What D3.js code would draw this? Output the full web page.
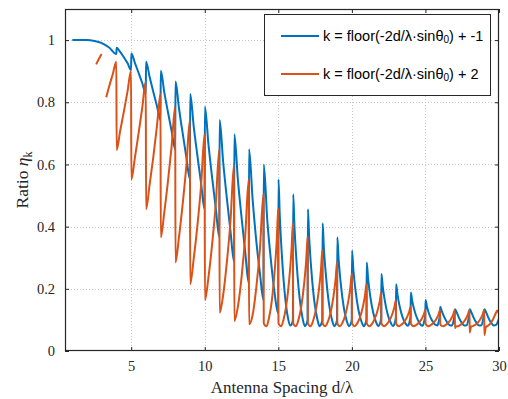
<!DOCTYPE html>
<html>
<head>
<meta charset="utf-8">
<title>Ratio vs antenna spacing</title>
<script src="https://cdn.jsdelivr.net/npm/d3@7"></script>
<style>
body { margin: 0; background: #fff; }
</style>
</head>
<body>
<svg id="chart" width="508" height="399"></svg>
<script>
// ticks
let xTicks = [5, 10, 15, 20, 25, 30];
let yTicks = [0, 0.2, 0.4, 0.6, 0.8, 1];

// legend labels
let seriesNames = ['k = floor(-2d/\u03bb\u00b7sin\u03b8', 'k = floor(-2d/\u03bb\u00b7sin\u03b8'];
let seriesTails = [') + -1', ') + 2'];

// [d/lambda, eta], one row per period
let blueCurve = [
    [1,1.0],[1.5,1.0],[2,1.0],[2.5,0.997],[3,0.99],[3.5,0.976],[3.99,0.955],
    [4.01,0.975],[4.25,0.962],[4.5,0.945],[4.75,0.926],[4.99,0.904],
    [5.01,0.957],[5.25,0.927],[5.5,0.895],[5.75,0.862],[5.99,0.827],
    [6.01,0.930],[6.25,0.882],[6.5,0.834],[6.75,0.788],[6.99,0.743],
    [7.01,0.901],[7.25,0.832],[7.5,0.768],[7.75,0.707],[7.99,0.649],
    [8.01,0.867],[8.25,0.780],[8.5,0.700],[8.75,0.623],[8.99,0.552],
    [9.01,0.827],[9.25,0.722],[9.5,0.628],[9.75,0.539],[9.99,0.456],
    [10.01,0.786],[10.25,0.665],[10.5,0.558],[10.75,0.459],[10.99,0.366],
    [11.01,0.743],[11.25,0.608],[11.5,0.492],[11.75,0.385],[11.99,0.287],
    [12.01,0.697],[12.25,0.552],[12.5,0.430],[12.75,0.318],[12.99,0.218],
    [13.01,0.649],[13.25,0.490],[13.5,0.355],[13.75,0.250],[13.99,0.164],
    [14.01,0.600],[14.25,0.420],[14.5,0.290],[14.75,0.185],[14.99,0.121],
    [15.01,0.552],[15.1,0.434],[15.25,0.302],[15.45,0.179],[15.65,0.108],[15.8,0.082],[15.9,0.085],[15.99,0.100],
    [16.01,0.504],[16.1,0.398],[16.25,0.279],[16.45,0.169],[16.65,0.105],[16.8,0.080],[16.9,0.085],[16.99,0.100],
    [17.01,0.456],[17.1,0.362],[17.25,0.257],[17.45,0.159],[17.65,0.103],[17.8,0.080],[17.9,0.085],[17.99,0.100],
    [18.01,0.411],[18.1,0.328],[18.25,0.236],[18.45,0.150],[18.65,0.100],[18.8,0.080],[18.9,0.085],[18.99,0.100],
    [19.01,0.366],[19.1,0.295],[19.25,0.214],[19.45,0.140],[19.65,0.097],[19.8,0.080],[19.9,0.085],[19.99,0.100],
    [20.01,0.323],[20.1,0.262],[20.25,0.194],[20.45,0.131],[20.65,0.095],[20.8,0.080],[20.9,0.086],[20.99,0.102],
    [21.01,0.285],[21.1,0.234],[21.25,0.176],[21.45,0.123],[21.65,0.092],[21.8,0.080],[21.9,0.087],[21.99,0.105],
    [22.01,0.248],[22.1,0.206],[22.25,0.159],[22.45,0.115],[22.65,0.090],[22.8,0.080],[22.9,0.088],[22.99,0.110],
    [23.01,0.215],[23.1,0.181],[23.25,0.143],[23.45,0.108],[23.65,0.088],[23.8,0.081],[23.9,0.090],[23.99,0.115],
    [24.01,0.188],[24.1,0.161],[24.25,0.131],[24.45,0.103],[24.65,0.086],[24.8,0.081],[24.9,0.092],[24.99,0.118],
    [25.01,0.164],[25.1,0.143],[25.25,0.119],[25.45,0.098],[25.65,0.085],[25.8,0.082],[25.9,0.094],[25.99,0.120],
    [26.01,0.142],[26.1,0.130],[26.25,0.112],[26.45,0.094],[26.65,0.083],[26.8,0.082],[26.9,0.095],[26.99,0.122],
    [27.01,0.134],[27.1,0.127],[27.25,0.110],[27.45,0.092],[27.65,0.082],[27.8,0.083],[27.9,0.097],[27.99,0.124],
    [28.01,0.134],[28.1,0.127],[28.25,0.110],[28.45,0.092],[28.65,0.082],[28.8,0.083],[28.9,0.097],[28.99,0.124],
    [29.01,0.134],[29.1,0.127],[29.25,0.110],[29.45,0.092],[29.65,0.082],[29.8,0.084],[29.9,0.092],[30,0.104]
];

let orangeCurve = [
    [2.62,0.922],[2.8,0.939],[2.98,0.955], null,
    [3.3,0.816],[3.5,0.851],[3.75,0.891],[3.99,0.930],
    [4.01,0.646],[4.25,0.708],[4.5,0.770],[4.75,0.835],[4.99,0.901],
    [5.01,0.552],[5.25,0.621],[5.5,0.700],[5.75,0.782],[5.99,0.867],
    [6.01,0.456],[6.25,0.534],[6.5,0.623],[6.75,0.723],[6.99,0.827],
    [7.01,0.366],[7.25,0.446],[7.5,0.547],[7.75,0.660],[7.99,0.786],
    [8.01,0.285],[8.25,0.367],[8.5,0.473],[8.75,0.596],[8.99,0.743],
    [9.01,0.215],[9.25,0.297],[9.5,0.403],[9.75,0.533],[9.99,0.697],
    [10.01,0.164],[10.25,0.237],[10.5,0.343],[10.75,0.474],[10.99,0.649],
    [11.01,0.123],[11.25,0.180],[11.5,0.285],[11.75,0.419],[11.99,0.600],
    [12.01,0.096],[12.25,0.142],[12.5,0.237],[12.75,0.370],[12.99,0.552],
    [13.01,0.086],[13.25,0.115],[13.5,0.203],[13.75,0.328],[13.99,0.504],
    [14.01,0.090],[14.1,0.082],[14.2,0.080],[14.35,0.103],[14.55,0.159],[14.75,0.257],[14.9,0.362],[14.99,0.456],
    [15.01,0.090],[15.1,0.082],[15.2,0.080],[15.35,0.100],[15.55,0.150],[15.75,0.236],[15.9,0.328],[15.99,0.411],
    [16.01,0.090],[16.1,0.082],[16.2,0.080],[16.35,0.097],[16.55,0.140],[16.75,0.214],[16.9,0.295],[16.99,0.366],
    [17.01,0.090],[17.1,0.082],[17.2,0.080],[17.35,0.095],[17.55,0.131],[17.75,0.194],[17.9,0.262],[17.99,0.323],
    [18.01,0.090],[18.1,0.082],[18.2,0.080],[18.35,0.092],[18.55,0.123],[18.75,0.176],[18.9,0.234],[18.99,0.285],
    [19.01,0.090],[19.1,0.082],[19.2,0.080],[19.35,0.090],[19.55,0.115],[19.75,0.159],[19.9,0.206],[19.99,0.248],
    [20.01,0.090],[20.1,0.082],[20.2,0.080],[20.35,0.088],[20.55,0.108],[20.75,0.143],[20.9,0.181],[20.99,0.215],
    [21.01,0.090],[21.1,0.082],[21.2,0.080],[21.35,0.086],[21.55,0.103],[21.75,0.131],[21.9,0.161],[21.99,0.188],
    [22.01,0.089],[22.1,0.082],[22.2,0.080],[22.35,0.085],[22.55,0.098],[22.75,0.119],[22.9,0.143],[22.99,0.164],
    [23.01,0.088],[23.1,0.082],[23.2,0.080],[23.35,0.084],[23.55,0.093],[23.75,0.109],[23.9,0.127],[23.99,0.142],
    [24.01,0.088],[24.1,0.082],[24.2,0.080],[24.35,0.083],[24.55,0.091],[24.75,0.104],[24.9,0.119],[24.99,0.132],
    [25.01,0.088],[25.1,0.082],[25.2,0.080],[25.35,0.083],[25.55,0.091],[25.75,0.104],[25.9,0.119],[25.99,0.132],
    [26.01,0.086],[26.1,0.081],[26.2,0.080],[26.35,0.083],[26.55,0.091],[26.75,0.104],[26.9,0.119],[26.99,0.132],
    [27.01,0.074],[27.1,0.080],[27.2,0.080],[27.35,0.083],[27.55,0.091],[27.75,0.104],[27.9,0.119],[27.99,0.132],
    [28.01,0.059],[28.1,0.078],[28.2,0.080],[28.35,0.083],[28.55,0.091],[28.75,0.104],[28.9,0.119],[28.99,0.132],
    [29.01,0.051],[29.1,0.076],[29.2,0.080],[29.35,0.085],[29.55,0.098],[29.75,0.118],[29.88,0.130],[30,0.120]
];

let colors = ['#0072BD', '#D95319'];

let svg = d3.select('#chart');
let width = +svg.attr('width');
let height = +svg.attr('height');
let pLeft = 65, pRight = 499, pTop = 9, pBottom = 351;
let axisColor = '#262626';
let serif = '"Liberation Serif", "DejaVu Serif", serif';

let x = d3.scaleLinear().domain([0.5, 30]).range([pLeft, pRight]);
let y = d3.scaleLinear().domain([0, 1.1]).range([pBottom, pTop]);

svg.append('rect').attr('width', width).attr('height', height).attr('fill', '#fff');

svg.append('defs').append('clipPath').attr('id', 'clip')
    .append('rect')
    .attr('x', pLeft).attr('y', pTop)
    .attr('width', pRight - pLeft).attr('height', pBottom - pTop);

// grid
let grid = svg.append('g')
    .attr('stroke', '#c8c8c8')
    .attr('stroke-width', 1)
    .attr('stroke-dasharray', '1,2');
grid.selectAll('.gx').data(xTicks.filter(t => t < 30)).enter().append('line')
    .attr('x1', d => Math.round(x(d)) + 0.5).attr('x2', d => Math.round(x(d)) + 0.5)
    .attr('y1', pTop).attr('y2', pBottom);
grid.selectAll('.gy').data(yTicks.filter(t => t > 0)).enter().append('line')
    .attr('x1', pLeft).attr('x2', pRight)
    .attr('y1', d => Math.round(y(d)) + 0.5).attr('y2', d => Math.round(y(d)) + 0.5);

// curves
let line = d3.line()
    .defined(d => d != null)
    .x(d => x(d[0]))
    .y(d => y(d[1]))
    .curve(d3.curveMonotoneX);

let plot = svg.append('g').attr('clip-path', 'url(#clip)');
[blueCurve, orangeCurve].forEach((data, i) => {
    plot.append('path')
        .datum(data)
        .attr('fill', 'none')
        .attr('stroke', colors[i])
        .attr('stroke-width', 2)
        .attr('stroke-linejoin', 'round')
        .attr('d', line);
});

// axes: box with inward ticks on all sides
let tickLen = 4;
let xAxisB = d3.axisBottom(x).tickValues(xTicks).tickSizeInner(-tickLen).tickSizeOuter(0).tickPadding(10);
let xAxisT = d3.axisTop(x).tickValues(xTicks).tickSizeInner(-tickLen).tickSizeOuter(0).tickFormat('');
let yAxisL = d3.axisLeft(y).tickValues(yTicks).tickSizeInner(-tickLen).tickSizeOuter(0).tickPadding(10)
    .tickFormat(d => d === 0 || d === 1 ? d3.format('d')(d) : d3.format('.1f')(d));
let yAxisR = d3.axisRight(y).tickValues(yTicks).tickSizeInner(-tickLen).tickSizeOuter(0).tickFormat('');

function styleAxis(g) {
    g.select('.domain').remove();
    g.selectAll('line').attr('stroke', axisColor);
    g.selectAll('text')
        .attr('fill', axisColor)
        .style('font-family', serif)
        .style('font-size', '14.5px');
}
svg.append('g').attr('transform', `translate(0,${pBottom})`).call(xAxisB).call(styleAxis);
svg.append('g').attr('transform', `translate(0,${pTop})`).call(xAxisT).call(styleAxis);
svg.append('g').attr('transform', `translate(${pLeft},0)`).call(yAxisL).call(styleAxis);
svg.append('g').attr('transform', `translate(${pRight},0)`).call(yAxisR).call(styleAxis);

svg.append('rect')
    .attr('x', pLeft + 0.5).attr('y', pTop + 0.5)
    .attr('width', pRight - pLeft - 1).attr('height', pBottom - pTop - 1)
    .attr('fill', 'none')
    .attr('stroke', axisColor)
    .attr('stroke-width', 1.2);

// axis labels
svg.append('text')
    .attr('x', (pLeft + pRight) / 2).attr('y', 393)
    .attr('text-anchor', 'middle')
    .attr('fill', axisColor)
    .style('font-family', serif)
    .style('font-size', '17px')
    .text('Antenna Spacing d/\u03bb');

let ylab = svg.append('text')
    .attr('transform', `translate(28,${(pTop + pBottom) / 2}) rotate(-90)`)
    .attr('text-anchor', 'middle')
    .attr('fill', axisColor)
    .style('font-family', serif)
    .style('font-size', '17.5px');
ylab.append('tspan').text('Ratio ');
ylab.append('tspan').style('font-style', 'italic').text('\u03b7');
ylab.append('tspan').attr('dy', 4).style('font-size', '12px').text('k');

// legend
let legend = svg.append('g');
legend.append('rect')
    .attr('x', 264.5).attr('y', 14.5)
    .attr('width', 226).attr('height', 81)
    .attr('fill', '#fff')
    .attr('stroke', axisColor)
    .attr('stroke-width', 1);
let legendY = [36, 74];
seriesNames.forEach((name, i) => {
    legend.append('line')
        .attr('x1', 281).attr('x2', 319)
        .attr('y1', legendY[i]).attr('y2', legendY[i])
        .attr('stroke', colors[i])
        .attr('stroke-width', 2);
    let t = legend.append('text')
        .attr('x', 323).attr('y', legendY[i] + 5)
        .attr('fill', '#000')
        .style('font-family', '"Liberation Sans", Arial, sans-serif')
        .style('font-size', '14.5px');
    t.append('tspan').text(name);
    t.append('tspan').attr('dy', 2).style('font-size', '10px').text('0');
    t.append('tspan').attr('dy', -2).text(seriesTails[i]);
});
</script>
</body>
</html>
